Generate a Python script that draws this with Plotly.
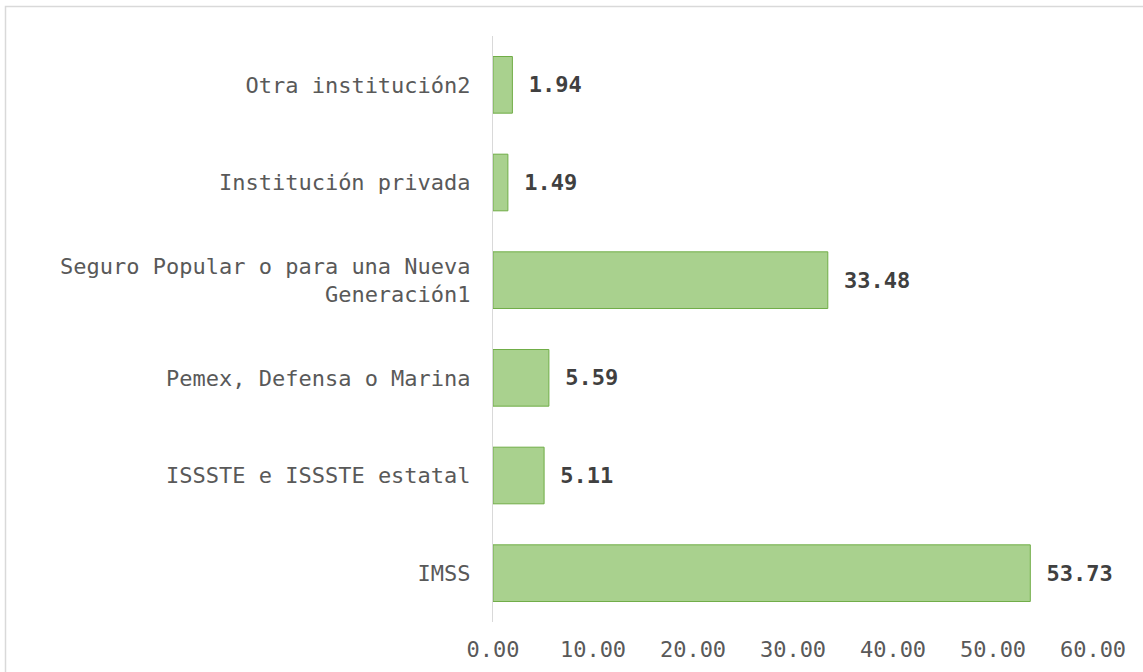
import plotly.graph_objects as go

# instituciones (de abajo hacia arriba) y porcentajes
instituciones = ["IMSS",
                 "ISSSTE e ISSSTE estatal",
                 "Pemex, Defensa o Marina",
                 "Seguro Popular o para una Nueva<br>Generación1",
                 "Institución privada",
                 "Otra institución2"]
porcentajes = [53.73, 5.11, 5.59, 33.48, 1.49, 1.94]
ticks_x = [0, 10, 20, 30, 40, 50, 60]

fuente = "DejaVu Sans Mono"

fig = go.Figure(go.Bar(
    x=porcentajes, y=instituciones, orientation="h",
    marker=dict(color="#a9d18e", line=dict(color="#70ad47", width=1)),
    texttemplate=" %{x:.2f}", textposition="outside", cliponaxis=False,
    textfont=dict(family=fuente, size=22, color="#404040", weight="bold"),
))

fig.update_layout(
    width=1143, height=672,
    margin=dict(l=493, r=50, t=36, b=50),
    plot_bgcolor="white", paper_bgcolor="white",
    bargap=0.42, showlegend=False,
    font=dict(family=fuente, size=22, color="#595959"),
    shapes=[dict(type="rect", xref="paper", yref="paper",
                 x0=-0.8125, x1=1.3, y0=-0.3, y1=1.0503,
                 line=dict(color="#d9d9d9", width=1.5), layer="below")],
)
fig.update_xaxes(range=[0, 60], tickvals=ticks_x, tickformat=".2f",
                 showgrid=False, zeroline=False, showline=False,
                 ticklabelstandoff=12, automargin=False)
fig.update_yaxes(showgrid=False, showline=True, linecolor="#d9d9d9", linewidth=1,
                 ticklabelstandoff=17, automargin=False)

# sin margen del body para que la figura empiece en (0,0)
fig.write_html("out.html", config={"displayModeBar": False},
               post_script="document.body.style.margin='0';")
